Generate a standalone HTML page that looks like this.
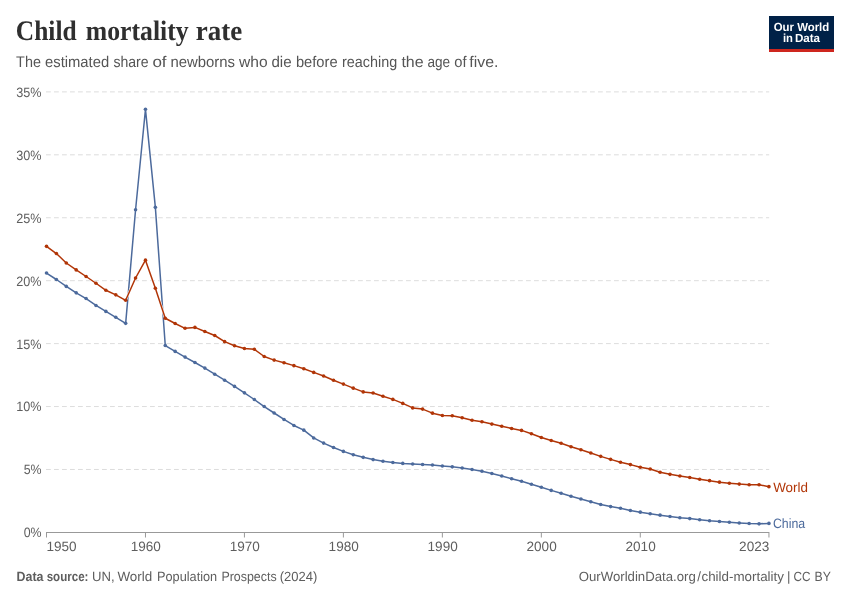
<!DOCTYPE html>
<html><head><meta charset="utf-8"><title>Child mortality rate</title>
<style>
html,body{margin:0;padding:0;background:#fff;}
svg{display:block;font-family:"Liberation Sans",sans-serif;text-rendering:geometricPrecision;}
.ax text{font-size:13.6px;fill:#5e5e5e;}
</style></head><body>
<svg width="850" height="600" viewBox="0 0 850 600">
<rect width="850" height="600" fill="#fff"/>
<g font-size="28.2" fill="#2f2f2f" font-family="'Liberation Serif','DejaVu Serif',serif" font-weight="bold">
<text y="40.1"><tspan x="15.80" textLength="60.80" lengthAdjust="spacingAndGlyphs">Child</tspan> <tspan x="85.80" textLength="102.80" lengthAdjust="spacingAndGlyphs">mortality</tspan> <tspan x="195.70" textLength="46.50" lengthAdjust="spacingAndGlyphs">rate</tspan></text>
</g>

<g font-size="15.4" fill="#555">
<text y="66.5"><tspan x="16.10" textLength="24.80" lengthAdjust="spacingAndGlyphs">The</tspan> <tspan x="45.00" textLength="64.20" lengthAdjust="spacingAndGlyphs">estimated</tspan> <tspan x="113.40" textLength="35.20" lengthAdjust="spacingAndGlyphs">share</tspan> <tspan x="152.40" textLength="14.20" lengthAdjust="spacingAndGlyphs">of</tspan> <tspan x="170.40" textLength="64.60" lengthAdjust="spacingAndGlyphs">newborns</tspan> <tspan x="239.00" textLength="28.60" lengthAdjust="spacingAndGlyphs">who</tspan> <tspan x="271.40" textLength="20.20" lengthAdjust="spacingAndGlyphs">die</tspan> <tspan x="295.90" textLength="41.70" lengthAdjust="spacingAndGlyphs">before</tspan> <tspan x="342.00" textLength="55.20" lengthAdjust="spacingAndGlyphs">reaching</tspan> <tspan x="401.40" textLength="22.20" lengthAdjust="spacingAndGlyphs">the</tspan> <tspan x="427.40" textLength="22.70" lengthAdjust="spacingAndGlyphs">age</tspan> <tspan x="454.20" textLength="12.30" lengthAdjust="spacingAndGlyphs">of</tspan> <tspan x="469.30" textLength="29.10" lengthAdjust="spacingAndGlyphs">five.</tspan></text>
</g>

<g>
<rect x="769" y="16" width="65" height="36" fill="#002147"/>
<rect x="769" y="49" width="65" height="3" fill="#ce261e"/>
<text x="801.5" y="30.5" font-size="11.8" font-weight="bold" fill="#fff" text-anchor="middle" textLength="55.5" lengthAdjust="spacingAndGlyphs">Our World</text>
<text y="42.4" font-size="11.8" font-weight="bold" fill="#fff"><tspan x="782.9" textLength="10" lengthAdjust="spacingAndGlyphs">in</tspan> <tspan x="794.9" textLength="25.2" lengthAdjust="spacingAndGlyphs">Data</tspan></text>
</g>
<g class="grid">
<line x1="46" x2="769.2" y1="469.47" y2="469.47" stroke="#ddd" stroke-width="1" stroke-dasharray="4.8,3.2"/>
<line x1="46" x2="769.2" y1="406.54" y2="406.54" stroke="#ddd" stroke-width="1" stroke-dasharray="4.8,3.2"/>
<line x1="46" x2="769.2" y1="343.61" y2="343.61" stroke="#ddd" stroke-width="1" stroke-dasharray="4.8,3.2"/>
<line x1="46" x2="769.2" y1="280.68" y2="280.68" stroke="#ddd" stroke-width="1" stroke-dasharray="4.8,3.2"/>
<line x1="46" x2="769.2" y1="217.75" y2="217.75" stroke="#ddd" stroke-width="1" stroke-dasharray="4.8,3.2"/>
<line x1="46" x2="769.2" y1="154.82" y2="154.82" stroke="#ddd" stroke-width="1" stroke-dasharray="4.8,3.2"/>
<line x1="46" x2="769.2" y1="91.89" y2="91.89" stroke="#ddd" stroke-width="1" stroke-dasharray="4.8,3.2"/>
</g>
<g class="ax">
<text x="23.70" y="537.30" textLength="17.9" lengthAdjust="spacingAndGlyphs">0%</text>
<text x="23.70" y="474.37" textLength="17.9" lengthAdjust="spacingAndGlyphs">5%</text>
<text x="16.30" y="411.44" textLength="25.3" lengthAdjust="spacingAndGlyphs">10%</text>
<text x="16.30" y="348.51" textLength="25.3" lengthAdjust="spacingAndGlyphs">15%</text>
<text x="16.30" y="285.58" textLength="25.3" lengthAdjust="spacingAndGlyphs">20%</text>
<text x="16.30" y="222.65" textLength="25.3" lengthAdjust="spacingAndGlyphs">25%</text>
<text x="16.30" y="159.72" textLength="25.3" lengthAdjust="spacingAndGlyphs">30%</text>
<text x="16.30" y="96.79" textLength="25.3" lengthAdjust="spacingAndGlyphs">35%</text>
<line x1="46" x2="769.3" y1="532.5" y2="532.5" stroke="#999" stroke-width="1"/>
<line x1="46.50" x2="46.50" y1="532.5" y2="537.5" stroke="#999" stroke-width="1"/>
<text x="46.40" y="550.8" textLength="30.2" lengthAdjust="spacingAndGlyphs">1950</text>
<line x1="145.47" x2="145.47" y1="532.5" y2="537.5" stroke="#999" stroke-width="1"/>
<text x="130.67" y="550.8" textLength="30.2" lengthAdjust="spacingAndGlyphs">1960</text>
<line x1="244.43" x2="244.43" y1="532.5" y2="537.5" stroke="#999" stroke-width="1"/>
<text x="229.63" y="550.8" textLength="30.2" lengthAdjust="spacingAndGlyphs">1970</text>
<line x1="343.39" x2="343.39" y1="532.5" y2="537.5" stroke="#999" stroke-width="1"/>
<text x="328.59" y="550.8" textLength="30.2" lengthAdjust="spacingAndGlyphs">1980</text>
<line x1="442.36" x2="442.36" y1="532.5" y2="537.5" stroke="#999" stroke-width="1"/>
<text x="427.56" y="550.8" textLength="30.2" lengthAdjust="spacingAndGlyphs">1990</text>
<line x1="541.33" x2="541.33" y1="532.5" y2="537.5" stroke="#999" stroke-width="1"/>
<text x="526.52" y="550.8" textLength="30.2" lengthAdjust="spacingAndGlyphs">2000</text>
<line x1="640.29" x2="640.29" y1="532.5" y2="537.5" stroke="#999" stroke-width="1"/>
<text x="625.49" y="550.8" textLength="30.2" lengthAdjust="spacingAndGlyphs">2010</text>
<line x1="768.94" x2="768.94" y1="532.5" y2="537.5" stroke="#999" stroke-width="1"/>
<text x="739.10" y="550.8" textLength="30.2" lengthAdjust="spacingAndGlyphs">2023</text>
</g>
<path d="M46.50,273.05 L56.40,279.50 L66.29,286.40 L76.19,292.85 L86.09,298.55 L95.98,305.45 L105.88,311.40 L115.78,317.30 L125.67,323.35 L135.57,209.75 L145.47,109.30 L155.36,207.35 L165.26,345.55 L175.15,351.40 L185.05,357.10 L194.95,362.50 L204.84,368.10 L214.74,374.20 L224.64,380.20 L234.53,386.40 L244.43,392.85 L254.33,399.50 L264.22,406.55 L274.12,413.00 L284.02,419.45 L293.91,425.45 L303.81,430.15 L313.71,437.95 L323.60,443.10 L333.50,447.55 L343.39,451.40 L353.29,454.80 L363.19,457.35 L373.08,459.60 L382.98,461.25 L392.88,462.45 L402.77,463.40 L412.67,464.00 L422.57,464.45 L432.46,465.05 L442.36,465.95 L452.26,466.85 L462.15,468.05 L472.05,469.55 L481.95,471.20 L491.84,473.45 L501.74,476.00 L511.64,478.70 L521.53,481.25 L531.43,484.25 L541.33,487.25 L551.22,490.40 L561.12,493.25 L571.01,496.25 L580.91,499.00 L590.81,501.80 L600.70,504.50 L610.60,506.60 L620.50,508.25 L630.39,510.50 L640.29,512.15 L650.19,513.80 L660.08,515.15 L669.98,516.50 L679.88,517.70 L689.77,518.60 L699.67,519.70 L709.57,520.70 L719.46,521.45 L729.36,522.20 L739.25,522.95 L749.15,523.55 L759.05,523.85 L768.94,523.40" fill="none" stroke="#fff" stroke-width="2.5" stroke-linejoin="round" stroke-linecap="round"/>
<path d="M46.50,273.05 L56.40,279.50 L66.29,286.40 L76.19,292.85 L86.09,298.55 L95.98,305.45 L105.88,311.40 L115.78,317.30 L125.67,323.35 L135.57,209.75 L145.47,109.30 L155.36,207.35 L165.26,345.55 L175.15,351.40 L185.05,357.10 L194.95,362.50 L204.84,368.10 L214.74,374.20 L224.64,380.20 L234.53,386.40 L244.43,392.85 L254.33,399.50 L264.22,406.55 L274.12,413.00 L284.02,419.45 L293.91,425.45 L303.81,430.15 L313.71,437.95 L323.60,443.10 L333.50,447.55 L343.39,451.40 L353.29,454.80 L363.19,457.35 L373.08,459.60 L382.98,461.25 L392.88,462.45 L402.77,463.40 L412.67,464.00 L422.57,464.45 L432.46,465.05 L442.36,465.95 L452.26,466.85 L462.15,468.05 L472.05,469.55 L481.95,471.20 L491.84,473.45 L501.74,476.00 L511.64,478.70 L521.53,481.25 L531.43,484.25 L541.33,487.25 L551.22,490.40 L561.12,493.25 L571.01,496.25 L580.91,499.00 L590.81,501.80 L600.70,504.50 L610.60,506.60 L620.50,508.25 L630.39,510.50 L640.29,512.15 L650.19,513.80 L660.08,515.15 L669.98,516.50 L679.88,517.70 L689.77,518.60 L699.67,519.70 L709.57,520.70 L719.46,521.45 L729.36,522.20 L739.25,522.95 L749.15,523.55 L759.05,523.85 L768.94,523.40" fill="none" stroke="#4C6A9C" stroke-width="1.5" stroke-linejoin="round" stroke-linecap="round"/>
<g fill="#4C6A9C"><circle cx="46.50" cy="273.05" r="1.8"/><circle cx="56.40" cy="279.50" r="1.8"/><circle cx="66.29" cy="286.40" r="1.8"/><circle cx="76.19" cy="292.85" r="1.8"/><circle cx="86.09" cy="298.55" r="1.8"/><circle cx="95.98" cy="305.45" r="1.8"/><circle cx="105.88" cy="311.40" r="1.8"/><circle cx="115.78" cy="317.30" r="1.8"/><circle cx="125.67" cy="323.35" r="1.8"/><circle cx="135.57" cy="209.75" r="1.8"/><circle cx="145.47" cy="109.30" r="1.8"/><circle cx="155.36" cy="207.35" r="1.8"/><circle cx="165.26" cy="345.55" r="1.8"/><circle cx="175.15" cy="351.40" r="1.8"/><circle cx="185.05" cy="357.10" r="1.8"/><circle cx="194.95" cy="362.50" r="1.8"/><circle cx="204.84" cy="368.10" r="1.8"/><circle cx="214.74" cy="374.20" r="1.8"/><circle cx="224.64" cy="380.20" r="1.8"/><circle cx="234.53" cy="386.40" r="1.8"/><circle cx="244.43" cy="392.85" r="1.8"/><circle cx="254.33" cy="399.50" r="1.8"/><circle cx="264.22" cy="406.55" r="1.8"/><circle cx="274.12" cy="413.00" r="1.8"/><circle cx="284.02" cy="419.45" r="1.8"/><circle cx="293.91" cy="425.45" r="1.8"/><circle cx="303.81" cy="430.15" r="1.8"/><circle cx="313.71" cy="437.95" r="1.8"/><circle cx="323.60" cy="443.10" r="1.8"/><circle cx="333.50" cy="447.55" r="1.8"/><circle cx="343.39" cy="451.40" r="1.8"/><circle cx="353.29" cy="454.80" r="1.8"/><circle cx="363.19" cy="457.35" r="1.8"/><circle cx="373.08" cy="459.60" r="1.8"/><circle cx="382.98" cy="461.25" r="1.8"/><circle cx="392.88" cy="462.45" r="1.8"/><circle cx="402.77" cy="463.40" r="1.8"/><circle cx="412.67" cy="464.00" r="1.8"/><circle cx="422.57" cy="464.45" r="1.8"/><circle cx="432.46" cy="465.05" r="1.8"/><circle cx="442.36" cy="465.95" r="1.8"/><circle cx="452.26" cy="466.85" r="1.8"/><circle cx="462.15" cy="468.05" r="1.8"/><circle cx="472.05" cy="469.55" r="1.8"/><circle cx="481.95" cy="471.20" r="1.8"/><circle cx="491.84" cy="473.45" r="1.8"/><circle cx="501.74" cy="476.00" r="1.8"/><circle cx="511.64" cy="478.70" r="1.8"/><circle cx="521.53" cy="481.25" r="1.8"/><circle cx="531.43" cy="484.25" r="1.8"/><circle cx="541.33" cy="487.25" r="1.8"/><circle cx="551.22" cy="490.40" r="1.8"/><circle cx="561.12" cy="493.25" r="1.8"/><circle cx="571.01" cy="496.25" r="1.8"/><circle cx="580.91" cy="499.00" r="1.8"/><circle cx="590.81" cy="501.80" r="1.8"/><circle cx="600.70" cy="504.50" r="1.8"/><circle cx="610.60" cy="506.60" r="1.8"/><circle cx="620.50" cy="508.25" r="1.8"/><circle cx="630.39" cy="510.50" r="1.8"/><circle cx="640.29" cy="512.15" r="1.8"/><circle cx="650.19" cy="513.80" r="1.8"/><circle cx="660.08" cy="515.15" r="1.8"/><circle cx="669.98" cy="516.50" r="1.8"/><circle cx="679.88" cy="517.70" r="1.8"/><circle cx="689.77" cy="518.60" r="1.8"/><circle cx="699.67" cy="519.70" r="1.8"/><circle cx="709.57" cy="520.70" r="1.8"/><circle cx="719.46" cy="521.45" r="1.8"/><circle cx="729.36" cy="522.20" r="1.8"/><circle cx="739.25" cy="522.95" r="1.8"/><circle cx="749.15" cy="523.55" r="1.8"/><circle cx="759.05" cy="523.85" r="1.8"/><circle cx="768.94" cy="523.40" r="1.8"/></g>
<path d="M46.50,246.35 L56.40,253.55 L66.29,263.00 L76.19,269.90 L86.09,276.50 L95.98,283.25 L105.88,290.30 L115.78,294.85 L125.67,300.30 L135.57,278.00 L145.47,260.15 L155.36,288.20 L165.26,318.25 L175.15,323.50 L185.05,328.30 L194.95,327.40 L204.84,331.45 L214.74,335.50 L224.64,341.65 L234.53,345.70 L244.43,348.55 L254.33,349.30 L264.22,356.50 L274.12,360.10 L284.02,362.80 L293.91,365.65 L303.81,368.70 L313.71,372.40 L323.60,376.00 L333.50,380.30 L343.39,384.10 L353.29,388.15 L363.19,391.90 L373.08,392.95 L382.98,396.25 L392.88,399.40 L402.77,403.40 L412.67,407.90 L422.57,409.10 L432.46,413.15 L442.36,415.55 L452.26,415.70 L462.15,417.80 L472.05,420.20 L481.95,421.70 L491.84,424.10 L501.74,426.20 L511.64,428.45 L521.53,430.40 L531.43,433.70 L541.33,437.45 L551.22,440.45 L561.12,443.30 L571.01,446.75 L580.91,449.75 L590.81,453.05 L600.70,456.35 L610.60,459.35 L620.50,462.20 L630.39,464.60 L640.29,467.30 L650.19,468.95 L660.08,472.25 L669.98,474.35 L679.88,476.00 L689.77,477.55 L699.67,479.20 L709.57,480.65 L719.46,482.15 L729.36,483.20 L739.25,484.10 L749.15,484.70 L759.05,484.70 L768.94,486.65" fill="none" stroke="#fff" stroke-width="2.5" stroke-linejoin="round" stroke-linecap="round"/>
<path d="M46.50,246.35 L56.40,253.55 L66.29,263.00 L76.19,269.90 L86.09,276.50 L95.98,283.25 L105.88,290.30 L115.78,294.85 L125.67,300.30 L135.57,278.00 L145.47,260.15 L155.36,288.20 L165.26,318.25 L175.15,323.50 L185.05,328.30 L194.95,327.40 L204.84,331.45 L214.74,335.50 L224.64,341.65 L234.53,345.70 L244.43,348.55 L254.33,349.30 L264.22,356.50 L274.12,360.10 L284.02,362.80 L293.91,365.65 L303.81,368.70 L313.71,372.40 L323.60,376.00 L333.50,380.30 L343.39,384.10 L353.29,388.15 L363.19,391.90 L373.08,392.95 L382.98,396.25 L392.88,399.40 L402.77,403.40 L412.67,407.90 L422.57,409.10 L432.46,413.15 L442.36,415.55 L452.26,415.70 L462.15,417.80 L472.05,420.20 L481.95,421.70 L491.84,424.10 L501.74,426.20 L511.64,428.45 L521.53,430.40 L531.43,433.70 L541.33,437.45 L551.22,440.45 L561.12,443.30 L571.01,446.75 L580.91,449.75 L590.81,453.05 L600.70,456.35 L610.60,459.35 L620.50,462.20 L630.39,464.60 L640.29,467.30 L650.19,468.95 L660.08,472.25 L669.98,474.35 L679.88,476.00 L689.77,477.55 L699.67,479.20 L709.57,480.65 L719.46,482.15 L729.36,483.20 L739.25,484.10 L749.15,484.70 L759.05,484.70 L768.94,486.65" fill="none" stroke="#B13507" stroke-width="1.5" stroke-linejoin="round" stroke-linecap="round"/>
<g fill="#B13507"><circle cx="46.50" cy="246.35" r="1.8"/><circle cx="56.40" cy="253.55" r="1.8"/><circle cx="66.29" cy="263.00" r="1.8"/><circle cx="76.19" cy="269.90" r="1.8"/><circle cx="86.09" cy="276.50" r="1.8"/><circle cx="95.98" cy="283.25" r="1.8"/><circle cx="105.88" cy="290.30" r="1.8"/><circle cx="115.78" cy="294.85" r="1.8"/><circle cx="125.67" cy="300.30" r="1.8"/><circle cx="135.57" cy="278.00" r="1.8"/><circle cx="145.47" cy="260.15" r="1.8"/><circle cx="155.36" cy="288.20" r="1.8"/><circle cx="165.26" cy="318.25" r="1.8"/><circle cx="175.15" cy="323.50" r="1.8"/><circle cx="185.05" cy="328.30" r="1.8"/><circle cx="194.95" cy="327.40" r="1.8"/><circle cx="204.84" cy="331.45" r="1.8"/><circle cx="214.74" cy="335.50" r="1.8"/><circle cx="224.64" cy="341.65" r="1.8"/><circle cx="234.53" cy="345.70" r="1.8"/><circle cx="244.43" cy="348.55" r="1.8"/><circle cx="254.33" cy="349.30" r="1.8"/><circle cx="264.22" cy="356.50" r="1.8"/><circle cx="274.12" cy="360.10" r="1.8"/><circle cx="284.02" cy="362.80" r="1.8"/><circle cx="293.91" cy="365.65" r="1.8"/><circle cx="303.81" cy="368.70" r="1.8"/><circle cx="313.71" cy="372.40" r="1.8"/><circle cx="323.60" cy="376.00" r="1.8"/><circle cx="333.50" cy="380.30" r="1.8"/><circle cx="343.39" cy="384.10" r="1.8"/><circle cx="353.29" cy="388.15" r="1.8"/><circle cx="363.19" cy="391.90" r="1.8"/><circle cx="373.08" cy="392.95" r="1.8"/><circle cx="382.98" cy="396.25" r="1.8"/><circle cx="392.88" cy="399.40" r="1.8"/><circle cx="402.77" cy="403.40" r="1.8"/><circle cx="412.67" cy="407.90" r="1.8"/><circle cx="422.57" cy="409.10" r="1.8"/><circle cx="432.46" cy="413.15" r="1.8"/><circle cx="442.36" cy="415.55" r="1.8"/><circle cx="452.26" cy="415.70" r="1.8"/><circle cx="462.15" cy="417.80" r="1.8"/><circle cx="472.05" cy="420.20" r="1.8"/><circle cx="481.95" cy="421.70" r="1.8"/><circle cx="491.84" cy="424.10" r="1.8"/><circle cx="501.74" cy="426.20" r="1.8"/><circle cx="511.64" cy="428.45" r="1.8"/><circle cx="521.53" cy="430.40" r="1.8"/><circle cx="531.43" cy="433.70" r="1.8"/><circle cx="541.33" cy="437.45" r="1.8"/><circle cx="551.22" cy="440.45" r="1.8"/><circle cx="561.12" cy="443.30" r="1.8"/><circle cx="571.01" cy="446.75" r="1.8"/><circle cx="580.91" cy="449.75" r="1.8"/><circle cx="590.81" cy="453.05" r="1.8"/><circle cx="600.70" cy="456.35" r="1.8"/><circle cx="610.60" cy="459.35" r="1.8"/><circle cx="620.50" cy="462.20" r="1.8"/><circle cx="630.39" cy="464.60" r="1.8"/><circle cx="640.29" cy="467.30" r="1.8"/><circle cx="650.19" cy="468.95" r="1.8"/><circle cx="660.08" cy="472.25" r="1.8"/><circle cx="669.98" cy="474.35" r="1.8"/><circle cx="679.88" cy="476.00" r="1.8"/><circle cx="689.77" cy="477.55" r="1.8"/><circle cx="699.67" cy="479.20" r="1.8"/><circle cx="709.57" cy="480.65" r="1.8"/><circle cx="719.46" cy="482.15" r="1.8"/><circle cx="729.36" cy="483.20" r="1.8"/><circle cx="739.25" cy="484.10" r="1.8"/><circle cx="749.15" cy="484.70" r="1.8"/><circle cx="759.05" cy="484.70" r="1.8"/><circle cx="768.94" cy="486.65" r="1.8"/></g>

<text x="773.2" y="491.6" font-size="13.6" fill="#B13507" textLength="34.8" lengthAdjust="spacingAndGlyphs">World</text>
<text x="772.9" y="528.3" font-size="13.5" fill="#4C6A9C" textLength="32.3" lengthAdjust="spacingAndGlyphs">China</text>
<g font-size="13.3" fill="#5e5e5e">
<text y="580.6"><tspan x="16.60" font-weight="bold" textLength="26.90" lengthAdjust="spacingAndGlyphs">Data</tspan> <tspan x="46.70" font-weight="bold" textLength="41.80" lengthAdjust="spacingAndGlyphs">source:</tspan> <tspan x="92.00" textLength="22.60" lengthAdjust="spacingAndGlyphs">UN,</tspan> <tspan x="117.40" textLength="34.80" lengthAdjust="spacingAndGlyphs">World</tspan> <tspan x="157.00" textLength="60.20" lengthAdjust="spacingAndGlyphs">Population</tspan> <tspan x="221.40" textLength="55.20" lengthAdjust="spacingAndGlyphs">Prospects</tspan> <tspan x="279.70" textLength="37.60" lengthAdjust="spacingAndGlyphs">(2024)</tspan></text>
<text y="580.6"><tspan x="578.70" textLength="117.10" lengthAdjust="spacingAndGlyphs">OurWorldinData.org</tspan><tspan x="697.15">/</tspan><tspan x="701.50" textLength="82.40" lengthAdjust="spacingAndGlyphs">child-mortality</tspan> <tspan x="787.07">|</tspan> <tspan x="793.50" textLength="17.00" lengthAdjust="spacingAndGlyphs">CC</tspan> <tspan x="814.60" textLength="16.40" lengthAdjust="spacingAndGlyphs">BY</tspan></text>
</g>

</svg>
</body></html>
